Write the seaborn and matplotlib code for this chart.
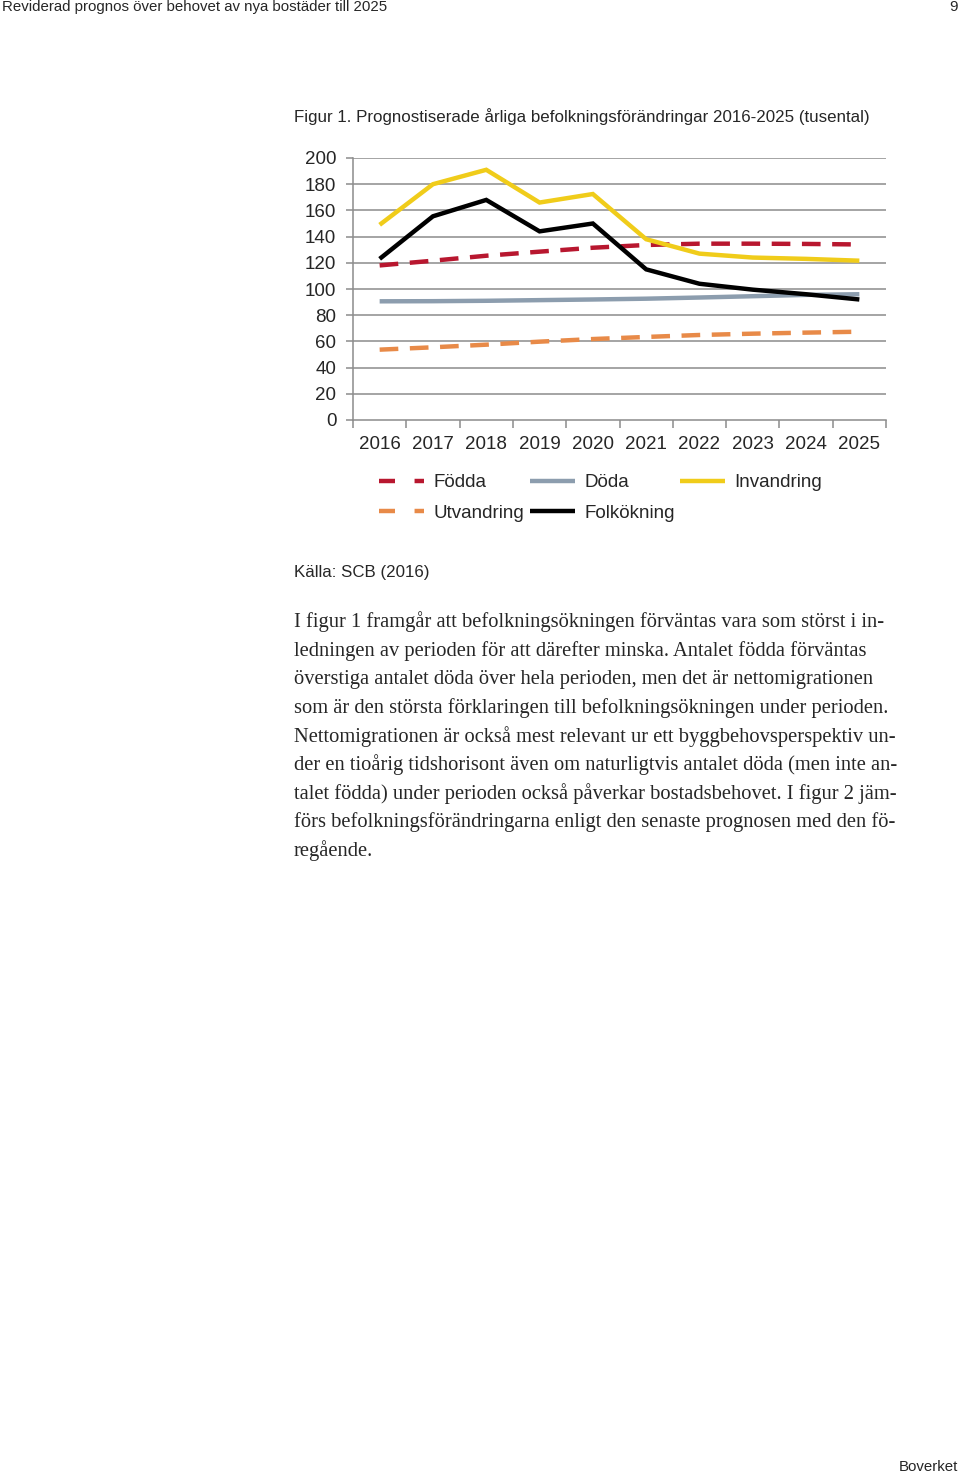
import numpy as np
import pandas as pd
import seaborn as sns
import matplotlib.pyplot as plt
from matplotlib.lines import Line2D

# Data (tusental)
years = ["2016", "2017", "2018", "2019", "2020", "2021", "2022", "2023", "2024", "2025"]
fodda = [118, 121.6, 125.4, 128.5, 131.5, 133.6, 134.6, 134.6, 134.4, 134]
doda = [90.6, 90.7, 91, 91.5, 92, 92.6, 93.5, 94.5, 95.5, 96]
invandring = [149, 180, 191, 166, 172.5, 138, 127, 124, 123, 121.6]
utvandring = [53.7, 55.5, 57.5, 59.8, 61.8, 63.4, 64.9, 65.9, 66.7, 67.4]
folkokning = [123, 155.5, 168, 144, 150, 115, 104, 99.5, 96, 92]

series_names = ["Födda", "Döda", "Invandring", "Utvandring", "Folkökning"]
series_values = [fodda, doda, invandring, utvandring, folkokning]
colors = ["#B8172F", "#8C9DAE", "#F0CC1A", "#E88A48", "#000000"]
dashed = [True, False, False, True, False]

body_lines = [
    "I figur 1 framgår att befolkningsökningen förväntas vara som störst i in-",
    "ledningen av perioden för att därefter minska. Antalet födda förväntas",
    "överstiga antalet döda över hela perioden, men det är nettomigrationen",
    "som är den största förklaringen till befolkningsökningen under perioden.",
    "Nettomigrationen är också mest relevant ur ett byggbehovsperspektiv un-",
    "der en tioårig tidshorisont även om naturligtvis antalet döda (men inte an-",
    "talet födda) under perioden också påverkar bostadsbehovet. I figur 2 jäm-",
    "förs befolkningsförändringarna enligt den senaste prognosen med den fö-",
    "regående.",
]

sns.set_style("white")
plt.rcParams["font.family"] = ["Liberation Sans", "DejaVu Sans"]

W, H = 960, 1476
fig = plt.figure(figsize=(W / 100, H / 100), dpi=100)
fig.patch.set_facecolor("white")


def fx(px):
    return px / W


def fy(py):
    return 1 - py / H


ax = fig.add_axes([fx(353), fy(420), fx(886) - fx(353), fy(158) - fy(420)])

df = pd.DataFrame({"year": np.arange(len(years))})
for name, vals in zip(series_names, series_values):
    df[name] = vals

DASH = (4.2, 2.6)
for name, col, dsh in zip(series_names, colors, dashed):
    sns.lineplot(data=df, x="year", y=name, ax=ax, color=col, linewidth=3.2,
                 solid_joinstyle="miter", solid_capstyle="butt")
    if dsh:
        ax.lines[-1].set_dashes(DASH)
        ax.lines[-1].set_dash_capstyle("butt")

ax.set_xlim(-0.5, len(years) - 0.5)
ax.set_ylim(0, 200)
ax.set_yticks(range(0, 201, 20))
ax.set_xticks(range(len(years)))
ax.set_xticklabels(years)
ax.set_xticks(np.arange(-0.5, len(years), 1), minor=True)
ax.set_xlabel("")
ax.set_ylabel("")

gridc = "#8C8C8C"
ax.grid(False)
for v in range(20, 201, 20):
    ax.axhline(v, color=gridc, linewidth=1.1, zorder=0)
for s in ["top", "right"]:
    ax.spines[s].set_visible(False)
for s in ["left", "bottom"]:
    ax.spines[s].set_color(gridc)
    ax.spines[s].set_linewidth(1.1)

ax.tick_params(axis="y", which="major", length=5, color=gridc, width=1.1,
               labelsize=13.5, pad=7, left=True)
ax.tick_params(axis="x", which="major", length=0, labelsize=13.5, pad=11.5)
ax.tick_params(axis="x", which="minor", length=6, color=gridc, width=1.1,
               bottom=True, direction="out")
ax.set_facecolor("white")

# Legend, row-major order like the reference
handles = {}
for name, col, dsh in zip(series_names, colors, dashed):
    h = Line2D([], [], color=col, linewidth=3.2, solid_capstyle="butt")
    if dsh:
        h.set_dashes((3.6, 4.4))
        h.set_dash_capstyle("butt")
    handles[name] = h
order = ["Födda", "Utvandring", "Döda", "Folkökning", "Invandring"]
fig.legend([handles[n] for n in order], order, loc="upper left",
           bbox_to_anchor=(fx(379), fy(474)), ncol=3, frameon=False,
           fontsize=13.5, handlelength=2.4, handletextpad=0.5,
           columnspacing=0.3, labelspacing=0.72, borderpad=0,
           borderaxespad=0)

# Page text
fig.text(fx(2), fy(7), "Reviderad prognos över behovet av nya bostäder till 2025",
         fontsize=10.8, va="center", ha="left")
fig.text(fx(958), fy(7), "9", fontsize=10.8, va="center", ha="right")
fig.text(fx(294), fy(117),
         "Figur 1. Prognostiserade årliga befolkningsförändringar 2016-2025 (tusental)",
         fontsize=12.13, va="center", ha="left")
fig.text(fx(294), fy(572), "Källa: SCB (2016)", fontsize=12.13, va="center", ha="left")
fig.text(fx(958), fy(1467), "Boverket", fontsize=10.8, va="center", ha="right")

y0, step = 622, 28.55
for i, line in enumerate(body_lines):
    fig.text(fx(294), fy(y0 + i * step), line, fontsize=14.8,
             family=["Liberation Serif", "DejaVu Serif"], va="center", ha="left")

fig.savefig("out.png", dpi=100, facecolor="white")
